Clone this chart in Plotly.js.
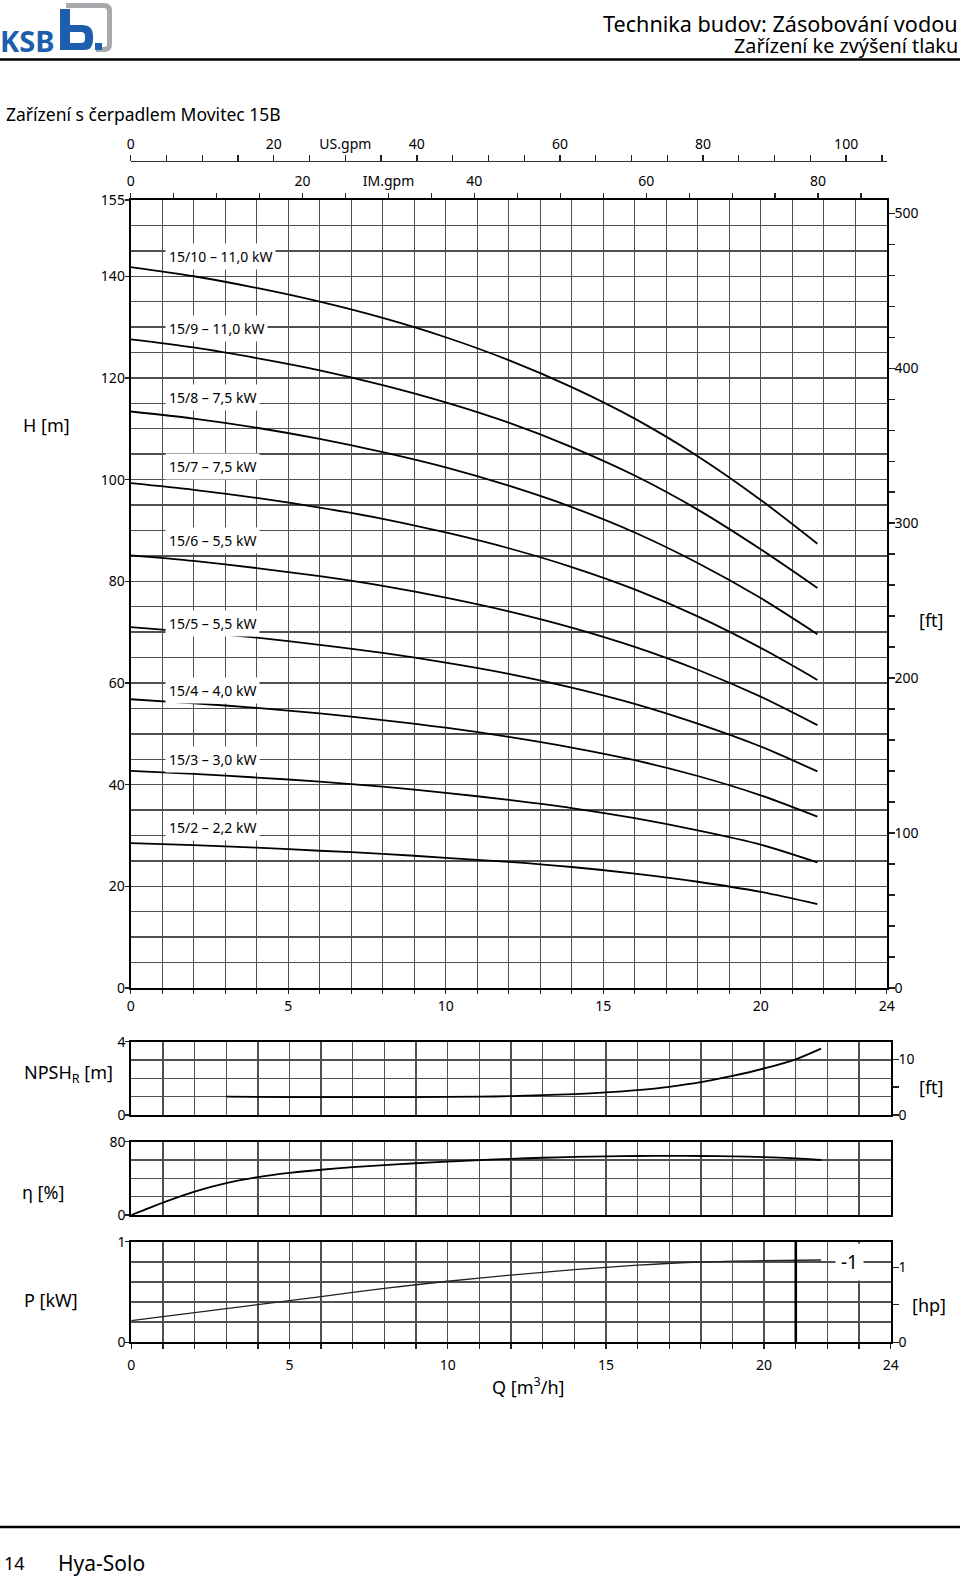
<!DOCTYPE html>
<html><head><meta charset="utf-8">
<script src="https://cdn.plot.ly/plotly-3.0.1.min.js"></script>
<style>html,body{margin:0;padding:0;background:#fff}#chart{width:960px;height:1579px}</style>
</head><body><div id="chart"></div>
<script>
// ---------------- data ----------------
const Q = [0, 2, 4, 6, 8, 10, 12, 14, 16, 18, 20, 21.8];            // m3/h
const H_15_10 = [141.8, 140.0, 137.7, 135.0, 131.8, 128.0, 123.5, 118.2, 112.0, 104.6, 96.0, 87.4];
const H_15_9  = [127.6, 126.0, 123.9, 121.5, 118.6, 115.2, 111.2, 106.4, 100.8, 94.1, 86.3, 78.7];
const H_15_8  = [113.4, 112.0, 110.2, 108.0, 105.4, 102.4, 98.8, 94.6, 89.6, 83.6, 76.7, 69.6];
const H_15_7  = [99.3, 98.0, 96.4, 94.5, 92.3, 89.6, 86.5, 82.8, 78.4, 73.1, 66.9, 60.6];
const H_15_6  = [85.1, 84.0, 82.6, 81.0, 79.1, 76.8, 74.1, 70.9, 67.1, 62.6, 57.3, 51.7];
const H_15_5  = [71.0, 70.0, 68.9, 67.5, 65.9, 64.0, 61.8, 59.1, 55.9, 52.0, 47.5, 42.6];
const H_15_4  = [56.8, 56.0, 55.1, 54.0, 52.7, 51.2, 49.4, 47.3, 44.8, 41.7, 37.9, 33.7];
const H_15_3  = [42.7, 42.1, 41.4, 40.6, 39.6, 38.4, 37.0, 35.4, 33.4, 31.0, 28.2, 24.7];
const H_15_2  = [28.5, 28.1, 27.6, 27.0, 26.4, 25.6, 24.8, 23.8, 22.5, 20.9, 18.9, 16.5];
const curveNames = ['15/10 – 11,0 kW','15/9 – 11,0 kW','15/8 – 7,5 kW','15/7 – 7,5 kW','15/6 – 5,5 kW','15/5 – 5,5 kW','15/4 – 4,0 kW','15/3 – 3,0 kW','15/2 – 2,2 kW'];
const labelH = [143.8, 129.7, 116.1, 102.6, 88.0, 71.6, 58.5, 45.0, 31.5];

const npshQ = [3, 5, 7, 9, 11, 12, 13, 14, 15, 16, 17, 18, 19, 20, 21, 21.8];
const npshM = [1.0, 0.98, 0.97, 0.98, 1.0, 1.03, 1.08, 1.14, 1.23, 1.36, 1.54, 1.79, 2.13, 2.54, 3.04, 3.62];

const etaQ = [0, 1, 2, 3, 4, 5, 6, 7, 8, 9, 10, 11, 12, 13, 14, 15, 16, 17, 18, 19, 20, 21, 21.8];
const etaPct = [0, 13.6, 25.6, 34.8, 41.4, 46.0, 49.4, 52.2, 54.5, 56.5, 58.3, 59.9, 61.3, 62.5, 63.4, 64.0, 64.4, 64.5, 64.4, 64.0, 63.2, 61.7, 60.0];

const powQ = [0, 2, 4, 6, 8, 10, 12, 14, 16, 18, 20, 21.8];
const powKW = [0.215, 0.295, 0.375, 0.455, 0.535, 0.607, 0.668, 0.722, 0.767, 0.798, 0.812, 0.818];
const limitQ = [21, 21];
const limitKW = [0, 1];
const impellerLabel = '-1';
const impellerPos = [22.7, 0.8];

const qTicks = [0, 5, 10, 15, 20, 24];
const hTicks = [0, 20, 40, 60, 80, 100, 120, 140, 155];
const ftTicks = [0, 100, 200, 300, 400, 500];
const usTicks = [0, 20, 30, 40, 60, 80, 100];
const usText = ['0', '20', 'US.gpm', '40', '60', '80', '100'];
const imTicks = [0, 20, 30, 40, 60, 80];
const imText = ['0', '20', 'IM.gpm', '40', '60', '80'];

const M_TO_FT = 1 / 0.3048, KW_TO_HP = 1 / 0.7457, TO_USGPM = 4.40287, TO_IMGPM = 3.66615;
const Q_MAX = 24, H_MAX = 155;

// ---------------- layout helpers ----------------
const W = 960, HT = 1579;
const fx = p => p / W, fy = p => 1 - p / HT;
const FONT = 'Noto Sans, Open Sans, sans-serif';
const GRID = '#505050', GW = 1.4, LINE = '#000';
const tickFont = {family: FONT, size: 14, color: '#000'};

const mainX = [fx(130.7), fx(886.7)];
const lowX = [fx(131.3), fx(890.7)];

function gridAxis(extra) {
  return Object.assign({
    showgrid: true, gridcolor: GRID, gridwidth: GW, zeroline: false,
    showline: true, linecolor: LINE, linewidth: 2, mirror: true,
    ticks: 'outside', ticklen: 4, tickwidth: 1.3, tickcolor: '#222',
    tickfont: tickFont, fixedrange: true
  }, extra);
}
function sideAxis(extra) {
  return Object.assign({
    showgrid: false, zeroline: false, showline: true, linecolor: LINE, linewidth: 2,
    ticks: 'outside', ticklen: 6, tickwidth: 1.3, tickcolor: '#222', tickfont: tickFont, fixedrange: true
  }, extra);
}

const curves = [H_15_10, H_15_9, H_15_8, H_15_7, H_15_6, H_15_5, H_15_4, H_15_3, H_15_2];
const traces = curves.map(h => ({x: Q, y: h, xaxis: 'x', yaxis: 'y', mode: 'lines',
  line: {color: '#000', width: 1.8, shape: 'spline', smoothing: 0.8}, hoverinfo: 'skip', showlegend: false}));

traces.push({x: npshQ, y: npshM, xaxis: 'x4', yaxis: 'y4', mode: 'lines', line: {color: '#000', width: 1.8, shape: 'spline', smoothing: 0.8}, showlegend: false});
traces.push({x: etaQ, y: etaPct, xaxis: 'x5', yaxis: 'y6', mode: 'lines', line: {color: '#000', width: 1.8, shape: 'spline', smoothing: 0.8}, showlegend: false});
traces.push({x: powQ, y: powKW, xaxis: 'x6', yaxis: 'y7', mode: 'lines', line: {color: '#222', width: 1.3, shape: 'spline', smoothing: 0.8}, showlegend: false});
traces.push({x: limitQ, y: limitKW, xaxis: 'x6', yaxis: 'y7', mode: 'lines', line: {color: '#000', width: 2.6}, showlegend: false});
// empty helper traces so that the secondary unit axes are created
[['x', 'y2'], ['x2', 'y'], ['x3', 'y'], ['x4', 'y5'], ['x6', 'y8']].forEach(p =>
  traces.push({x: [null], y: [null], xaxis: p[0], yaxis: p[1], mode: 'lines', showlegend: false, hoverinfo: 'skip'}));

const minorT = (d, len) => ({tickmode: 'linear', tick0: 0, dtick: d, ticks: 'outside', ticklen: len, tickwidth: 1.3, tickcolor: '#222'});
const minorG = (d, t, len) => ({tickmode: 'linear', tick0: 0, dtick: d, showgrid: true, gridcolor: GRID, gridwidth: GW,
  ticks: t ? 'outside' : '', ticklen: len || 0, tickwidth: 1.3, tickcolor: '#222'});

const layout = {
  width: W, height: HT, margin: {l: 0, r: 0, t: 0, b: 0},
  paper_bgcolor: '#fff', plot_bgcolor: 'rgba(0,0,0,0)',
  font: {family: FONT, color: '#000'}, showlegend: false,
  // main H chart
  xaxis: gridAxis({domain: mainX, anchor: 'y', range: [0, Q_MAX], tickmode: 'array', tickvals: qTicks, minor: minorG(1, true, 4)}),
  yaxis: gridAxis({domain: [fy(988), fy(200)], anchor: 'x', range: [0, H_MAX], tickmode: 'array', tickvals: hTicks,
    ticklabelstandoff: -3, minor: minorG(5, false)}),
  yaxis2: sideAxis({overlaying: 'y', anchor: 'x', side: 'right', range: [0, H_MAX * M_TO_FT], tickmode: 'array', tickvals: ftTicks,
    ticklabelstandoff: -3, minor: minorT(20, 6)}),
  xaxis2: sideAxis({overlaying: 'x', anchor: 'y', side: 'top', showline: false, range: [0, Q_MAX * TO_IMGPM], tickmode: 'array',
    tickvals: imTicks, ticktext: imText, ticklabelstandoff: 1, minor: minorT(5, 6)}),
  xaxis3: sideAxis({overlaying: 'x', anchor: 'free', position: fy(160.7), side: 'top', linecolor: '#333', linewidth: 1.5,
    range: [0, Q_MAX * TO_USGPM], tickmode: 'array', tickvals: usTicks, ticktext: usText, minor: minorT(5, 6)}),
  // NPSH
  xaxis4: gridAxis({domain: lowX, anchor: 'y4', range: [0, Q_MAX], showticklabels: false, ticks: '', tickmode: 'array', tickvals: qTicks, minor: minorG(1, false)}),
  yaxis4: gridAxis({domain: [fy(1115), fy(1041.7)], anchor: 'x4', range: [0, 4], tickmode: 'array', tickvals: [0, 4], ticklabelstandoff: -3, minor: minorG(1, false)}),
  yaxis5: sideAxis({overlaying: 'y4', anchor: 'x4', side: 'right', range: [0, 4 * M_TO_FT], tickmode: 'array', tickvals: [0, 10], ticklabelstandoff: -3, minor: minorT(5, 6)}),
  // efficiency
  xaxis5: gridAxis({domain: lowX, anchor: 'y6', range: [0, Q_MAX], showticklabels: false, ticks: '', tickmode: 'array', tickvals: qTicks, minor: minorG(1, false)}),
  yaxis6: gridAxis({domain: [fy(1215), fy(1141.7)], anchor: 'x5', range: [0, 80], tickmode: 'array', tickvals: [0, 80], ticklabelstandoff: -3, minor: minorG(20, false)}),
  // power
  xaxis6: gridAxis({domain: lowX, anchor: 'y7', range: [0, Q_MAX], tickmode: 'array', tickvals: qTicks, ticklen: 5, ticklabelstandoff: 4, minor: minorG(1, true, 5)}),
  yaxis7: gridAxis({domain: [fy(1342.3), fy(1241.7)], anchor: 'x6', range: [0, 1], tickmode: 'array', tickvals: [0, 1], ticklabelstandoff: -3, minor: minorG(0.2, false)}),
  yaxis8: sideAxis({overlaying: 'y7', anchor: 'x6', side: 'right', range: [0, KW_TO_HP], tickmode: 'array', tickvals: [0, 1], ticklabelstandoff: -3, minor: minorT(0.5, 6)}),
  annotations: [],
  shapes: []
};

const A = layout.annotations;
curveNames.forEach((t, i) => A.push({xref: 'x', yref: 'y', x: 1.1, y: labelH[i], xanchor: 'left', yanchor: 'middle',
  text: t, showarrow: false, bgcolor: '#fff', borderpad: 3, font: {family: FONT, size: 14, color: '#000'}}));
A.push({xref: 'x6', yref: 'y7', x: impellerPos[0], y: impellerPos[1], text: impellerLabel, showarrow: false, bgcolor: '#fff', borderpad: 5,
  font: {family: FONT, size: 19, color: '#000'}});

function txt(x, y, t, size, anchor, extra) {
  A.push(Object.assign({xref: 'paper', yref: 'paper', x: fx(x), y: fy(y), text: t, showarrow: false,
    xanchor: anchor || 'left', yanchor: 'middle', font: {family: FONT, size: size, color: '#000'}}, extra || {}));
}
txt(21, 425, 'H [m]', 18);
txt(917, 620, '[ft]', 18);
txt(21.7, 1073, 'NPSH<sub>R</sub> [m]', 18);
txt(916.7, 1086.7, '[ft]', 18);
txt(20, 1191.7, 'η [%]', 18);
txt(21.7, 1300, 'P [kW]', 18);
txt(910, 1305, '[hp]', 18);
txt(490, 1386, 'Q [m<sup>3</sup>/h]', 18);
txt(4, 114, 'Zařízení s čerpadlem Movitec 15B', 17.5);
txt(960, 24, 'Technika budov: Zásobování vodou', 21.6, 'right');
txt(960, 46, 'Zařízení ke zvýšení tlaku', 19.8, 'right');
txt(2, 1563, '14', 18);
txt(56, 1563, 'Hya-Solo', 21);
txt(-2, 40, '<b>KSB</b>', 29, 'left', {font: {family: FONT, size: 29, color: '#1d5fae'}});

const S = layout.shapes;
const P = (o) => S.push(Object.assign({xref: 'paper', yref: 'paper', layer: 'above'}, o));
P({type: 'line', x0: 0, x1: 1, y0: fy(59.5), y1: fy(59.5), line: {color: '#000', width: 2.5}});
P({type: 'line', x0: 0, x1: 1, y0: fy(1527), y1: fy(1527), line: {color: '#000', width: 2.5}});
// logo
P({type: 'path', path: `M ${fx(69)} ${fy(5.5)} L ${fx(104)} ${fy(5.5)} Q ${fx(109.5)} ${fy(5.5)} ${fx(109.5)} ${fy(11)} L ${fx(109.5)} ${fy(44)} Q ${fx(109.5)} ${fy(49.5)} ${fx(104)} ${fy(49.5)} L ${fx(96)} ${fy(49.5)} M ${fx(69)} ${fy(5.5)} L ${fx(66)} ${fy(5.5)}`,
  line: {color: '#a7a9ac', width: 5}});
P({type: 'rect', x0: fx(60), x1: fx(70), y0: fy(50), y1: fy(9), line: {width: 0}, fillcolor: '#1d5fae'});
P({type: 'path', path: `M ${fx(60)} ${fy(50)} L ${fx(84)} ${fy(50)} Q ${fx(93)} ${fy(50)} ${fx(93)} ${fy(40)} L ${fx(93)} ${fy(36)} Q ${fx(93)} ${fy(25)} ${fx(82)} ${fy(25)} L ${fx(60)} ${fy(25)} Z`,
  line: {width: 0}, fillcolor: '#1d5fae'});
P({type: 'path', path: `M ${fx(70)} ${fy(43)} L ${fx(81)} ${fy(43)} Q ${fx(85)} ${fy(43)} ${fx(85)} ${fy(39)} L ${fx(85)} ${fy(36)} Q ${fx(85)} ${fy(32)} ${fx(81)} ${fy(32)} L ${fx(70)} ${fy(32)} Z`,
  line: {width: 0}, fillcolor: '#fff'});
P({type: 'rect', x0: fx(95), x1: fx(102), y0: fy(50), y1: fy(43), line: {width: 0}, fillcolor: '#1d5fae'});

Plotly.newPlot('chart', traces, layout, {staticPlot: true, displayModeBar: false});
</script>
</body></html>
